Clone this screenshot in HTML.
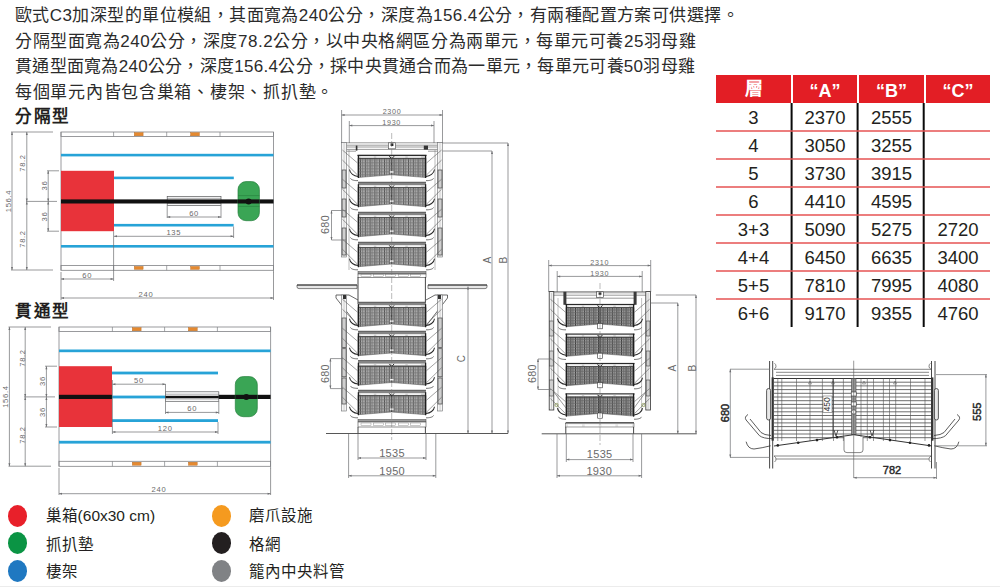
<!DOCTYPE html>
<html lang="zh-TW"><head><meta charset="utf-8">
<style>
html,body{margin:0;padding:0;background:#fff;}
body{width:1000px;height:587px;position:relative;overflow:hidden;font-family:"Liberation Sans",sans-serif;color:#231f20;}
.t{position:absolute;white-space:nowrap;font-size:17px;line-height:20px;color:#2b2b2b}
.h{position:absolute;white-space:nowrap;font-size:16.5px;line-height:20px;font-weight:bold;letter-spacing:1.6px;color:#231f20}
.th{position:absolute;top:75px;height:28px;line-height:32px;text-align:center;color:#fff;font-weight:bold;font-size:18px}
.td{position:absolute;height:28px;line-height:30px;text-align:center;color:#231f20;font-size:18.5px}
.dot{position:absolute;width:19.4px;height:22px;border-radius:50%}
.lg{position:absolute;white-space:nowrap;font-size:15.5px;line-height:20px;color:#231f20}
</style></head><body>
<svg width="1000" height="587" viewBox="0 0 1000 587" style="position:absolute;left:0;top:0;font-family:'Liberation Sans',sans-serif">
<defs><pattern id="mesh" x="0" y="0" width="4.8" height="1.5" patternUnits="userSpaceOnUse"><rect width="4.8" height="1.5" fill="#b4b4b4"/><rect x="0" y="0" width="0.75" height="1.5" fill="#353535"/><rect x="2.4" y="0" width="0.6" height="1.5" fill="#505050"/><rect x="0" y="0" width="4.8" height="0.5" fill="#767676"/></pattern><pattern id="mesh2" x="0" y="0" width="4.6" height="1.6" patternUnits="userSpaceOnUse"><rect width="4.6" height="1.6" fill="#a4a4a4"/><rect x="0" y="0" width="0.85" height="1.6" fill="#2e2e2e"/><rect x="2.3" y="0" width="0.7" height="1.6" fill="#454545"/><rect x="0" y="0" width="4.6" height="0.6" fill="#666"/></pattern></defs>
<line x1="61" y1="132" x2="61" y2="270.3" stroke="#808285" stroke-width="0.8" />
<line x1="273.5" y1="132" x2="273.5" y2="272.3" stroke="#808285" stroke-width="0.8" />
<rect x="61" y="132" width="212.5" height="4.5" fill="none" stroke="#808285" stroke-width="0.8" rx="0" />
<rect x="61" y="265.5" width="212.5" height="4.800000000000011" fill="none" stroke="#808285" stroke-width="0.8" rx="0" />
<line x1="113.6" y1="132" x2="113.6" y2="136.5" stroke="#808285" stroke-width="0.7" />
<line x1="113.6" y1="265.5" x2="113.6" y2="270.3" stroke="#808285" stroke-width="0.7" />
<line x1="166.7" y1="132" x2="166.7" y2="136.5" stroke="#808285" stroke-width="0.7" />
<line x1="166.7" y1="265.5" x2="166.7" y2="270.3" stroke="#808285" stroke-width="0.7" />
<line x1="220" y1="132" x2="220" y2="136.5" stroke="#808285" stroke-width="0.7" />
<line x1="220" y1="265.5" x2="220" y2="270.3" stroke="#808285" stroke-width="0.7" />
<rect x="134.3" y="132.6" width="8.8" height="3.2" fill="#e5892f" stroke="#b5651d" stroke-width="0.4" rx="0" />
<rect x="134.3" y="266.4" width="8.8" height="3.0" fill="#e5892f" stroke="#b5651d" stroke-width="0.4" rx="0" />
<rect x="190.6" y="132.6" width="8.8" height="3.2" fill="#e5892f" stroke="#b5651d" stroke-width="0.4" rx="0" />
<rect x="190.6" y="266.4" width="8.8" height="3.0" fill="#e5892f" stroke="#b5651d" stroke-width="0.4" rx="0" />
<rect x="61" y="153.8" width="212.5" height="2.6" fill="#27a3d7" stroke="none" stroke-width="0.7" rx="0" />
<rect x="114" y="176.6" width="119.8" height="2.6" fill="#27a3d7" stroke="none" stroke-width="0.7" rx="0" />
<rect x="114" y="223.9" width="119.6" height="2.6" fill="#27a3d7" stroke="none" stroke-width="0.7" rx="0" />
<rect x="61" y="245" width="212.5" height="2.6" fill="#27a3d7" stroke="none" stroke-width="0.7" rx="0" />
<rect x="61" y="170.8" width="53" height="60.4" fill="#e8333a" stroke="none" stroke-width="0.7" rx="0" />
<rect x="167.2" y="196.5" width="53.8" height="9" fill="#fff" stroke="#58595b" stroke-width="0.7" rx="0" />
<line x1="167.2" y1="198.3" x2="221" y2="198.3" stroke="#58595b" stroke-width="0.5" />
<line x1="167.2" y1="203.6" x2="221" y2="203.6" stroke="#58595b" stroke-width="0.5" />
<rect x="61" y="199.4" width="212.5" height="4.1" fill="#111" stroke="none" stroke-width="0.7" rx="0" />
<rect x="238" y="181.6" width="21.4" height="39.1" fill="#3aa555" stroke="#26803d" stroke-width="0.7" rx="8" />
<line x1="238" y1="195.6" x2="259.4" y2="195.6" stroke="#26803d" stroke-width="0.6" />
<line x1="238" y1="206.4" x2="259.4" y2="206.4" stroke="#26803d" stroke-width="0.6" />
<rect x="238" y="199.4" width="21.4" height="4.1" fill="#111" stroke="none" stroke-width="0.7" rx="0" />
<circle cx="248.6" cy="201.4" r="3" fill="#111"/>
<line x1="167.2" y1="205.5" x2="167.2" y2="218" stroke="#6d6e71" stroke-width="0.7" />
<line x1="221" y1="205.5" x2="221" y2="218" stroke="#6d6e71" stroke-width="0.7" />
<line x1="167.2" y1="217" x2="221" y2="217" stroke="#6d6e71" stroke-width="0.7" />
<path d="M167.2,217 l3,-1 v2 z M221,217 l-3,-1 v2 z" fill="#6d6e71"/>
<text x="194.1" y="213" font-size="7.6" fill="#6a6a6a" text-anchor="middle" dominant-baseline="central" font-weight="normal" letter-spacing="0.7">60</text>
<line x1="233.6" y1="226.5" x2="233.6" y2="238" stroke="#6d6e71" stroke-width="0.7" />
<line x1="114" y1="236.3" x2="233.6" y2="236.3" stroke="#6d6e71" stroke-width="0.7" />
<path d="M114,236.3 l3,-1 v2 z M233.6,236.3 l-3,-1 v2 z" fill="#6d6e71"/>
<text x="173.8" y="232" font-size="7.6" fill="#6a6a6a" text-anchor="middle" dominant-baseline="central" font-weight="normal" letter-spacing="0.7">135</text>
<line x1="113.6" y1="231.2" x2="113.6" y2="281" stroke="#6d6e71" stroke-width="0.7" />
<line x1="61" y1="279" x2="113.6" y2="279" stroke="#6d6e71" stroke-width="0.7" />
<path d="M61,279 l3,-1 v2 z M113.6,279 l-3,-1 v2 z" fill="#6d6e71"/>
<text x="87.3" y="275.5" font-size="7.6" fill="#6a6a6a" text-anchor="middle" dominant-baseline="central" font-weight="normal" letter-spacing="0.7">60</text>
<line x1="61" y1="272" x2="61" y2="300" stroke="#6d6e71" stroke-width="0.7" />
<line x1="273.5" y1="272" x2="273.5" y2="300" stroke="#6d6e71" stroke-width="0.7" />
<line x1="61" y1="298" x2="273.5" y2="298" stroke="#6d6e71" stroke-width="0.7" />
<path d="M61,298 l3,-1 v2 z M273.5,298 l-3,-1 v2 z" fill="#6d6e71"/>
<text x="146" y="294" font-size="7.6" fill="#6a6a6a" text-anchor="middle" dominant-baseline="central" font-weight="normal" letter-spacing="0.7">240</text>
<line x1="11" y1="132" x2="53" y2="132" stroke="#6d6e71" stroke-width="0.7" />
<line x1="11" y1="270" x2="53" y2="270" stroke="#6d6e71" stroke-width="0.7" />
<line x1="12" y1="132" x2="12" y2="270" stroke="#6d6e71" stroke-width="0.7" />
<path d="M12,132 l-1,3 h2 z M12,270 l-1,-3 h2 z" fill="#6d6e71"/>
<text x="8.5" y="201.0" font-size="7.6" fill="#6a6a6a" text-anchor="middle" dominant-baseline="central" font-weight="normal" letter-spacing="0.7" transform="rotate(-90 8.5 201.0)">156.4</text>
<line x1="26.8" y1="132" x2="26.8" y2="201.4" stroke="#6d6e71" stroke-width="0.7" />
<path d="M26.8,132 l-1,3 h2 z M26.8,201.4 l-1,-3 h2 z" fill="#6d6e71"/>
<text x="22.5" y="163" font-size="7.6" fill="#6a6a6a" text-anchor="middle" dominant-baseline="central" font-weight="normal" letter-spacing="0.7" transform="rotate(-90 22.5 163)">78.2</text>
<line x1="26.8" y1="201.4" x2="26.8" y2="270" stroke="#6d6e71" stroke-width="0.7" />
<path d="M26.8,201.4 l-1,3 h2 z M26.8,270 l-1,-3 h2 z" fill="#6d6e71"/>
<text x="22.5" y="239" font-size="7.6" fill="#6a6a6a" text-anchor="middle" dominant-baseline="central" font-weight="normal" letter-spacing="0.7" transform="rotate(-90 22.5 239)">78.2</text>
<line x1="26" y1="201.4" x2="57" y2="201.4" stroke="#6d6e71" stroke-width="0.7" />
<line x1="47" y1="170.8" x2="59" y2="170.8" stroke="#6d6e71" stroke-width="0.7" />
<line x1="47" y1="231.2" x2="59" y2="231.2" stroke="#6d6e71" stroke-width="0.7" />
<line x1="48.2" y1="170.8" x2="48.2" y2="201.4" stroke="#6d6e71" stroke-width="0.7" />
<path d="M48.2,170.8 l-1,3 h2 z M48.2,201.4 l-1,-3 h2 z" fill="#6d6e71"/>
<text x="44.5" y="185.5" font-size="7.6" fill="#6a6a6a" text-anchor="middle" dominant-baseline="central" font-weight="normal" letter-spacing="0.7" transform="rotate(-90 44.5 185.5)">36</text>
<line x1="48.2" y1="201.4" x2="48.2" y2="231.2" stroke="#6d6e71" stroke-width="0.7" />
<path d="M48.2,201.4 l-1,3 h2 z M48.2,231.2 l-1,-3 h2 z" fill="#6d6e71"/>
<text x="44.5" y="216.5" font-size="7.6" fill="#6a6a6a" text-anchor="middle" dominant-baseline="central" font-weight="normal" letter-spacing="0.7" transform="rotate(-90 44.5 216.5)">36</text>
<line x1="59" y1="327" x2="59" y2="466.3" stroke="#808285" stroke-width="0.8" />
<line x1="270.6" y1="327" x2="270.6" y2="468.3" stroke="#808285" stroke-width="0.8" />
<rect x="59" y="327" width="211.60000000000002" height="4.5" fill="none" stroke="#808285" stroke-width="0.8" rx="0" />
<rect x="59" y="461.3" width="211.60000000000002" height="5.0" fill="none" stroke="#808285" stroke-width="0.8" rx="0" />
<line x1="112.4" y1="327" x2="112.4" y2="331.5" stroke="#808285" stroke-width="0.7" />
<line x1="112.4" y1="461.3" x2="112.4" y2="466.3" stroke="#808285" stroke-width="0.7" />
<line x1="164.6" y1="327" x2="164.6" y2="331.5" stroke="#808285" stroke-width="0.7" />
<line x1="164.6" y1="461.3" x2="164.6" y2="466.3" stroke="#808285" stroke-width="0.7" />
<line x1="217.4" y1="327" x2="217.4" y2="331.5" stroke="#808285" stroke-width="0.7" />
<line x1="217.4" y1="461.3" x2="217.4" y2="466.3" stroke="#808285" stroke-width="0.7" />
<rect x="132.3" y="327.6" width="8.8" height="3.2" fill="#e5892f" stroke="#b5651d" stroke-width="0.4" rx="0" />
<rect x="132.3" y="462.2" width="8.8" height="3.0" fill="#e5892f" stroke="#b5651d" stroke-width="0.4" rx="0" />
<rect x="188.4" y="327.6" width="8.8" height="3.2" fill="#e5892f" stroke="#b5651d" stroke-width="0.4" rx="0" />
<rect x="188.4" y="462.2" width="8.8" height="3.0" fill="#e5892f" stroke="#b5651d" stroke-width="0.4" rx="0" />
<rect x="59" y="349.5" width="211.60000000000002" height="2.7" fill="#27a3d7" stroke="none" stroke-width="0.7" rx="0" />
<rect x="112" y="371.6" width="106" height="2.8" fill="#27a3d7" stroke="none" stroke-width="0.7" rx="0" />
<rect x="112" y="395.6" width="53.5" height="2.8" fill="#27a3d7" stroke="none" stroke-width="0.7" rx="0" />
<rect x="112" y="419.2" width="106" height="2.8" fill="#27a3d7" stroke="none" stroke-width="0.7" rx="0" />
<rect x="59" y="440.8" width="211.60000000000002" height="2.8" fill="#27a3d7" stroke="none" stroke-width="0.7" rx="0" />
<rect x="59" y="366.2" width="53" height="60.8" fill="#e8333a" stroke="none" stroke-width="0.7" rx="0" />
<rect x="59" y="394.8" width="53" height="4.2" fill="#111" stroke="none" stroke-width="0.7" rx="0" />
<rect x="165.5" y="391.8" width="53.3" height="9.5" fill="#fff" stroke="#58595b" stroke-width="0.7" rx="0" />
<line x1="165.5" y1="394.2" x2="218.8" y2="394.2" stroke="#58595b" stroke-width="0.5" />
<line x1="165.5" y1="399" x2="218.8" y2="399" stroke="#58595b" stroke-width="0.5" />
<rect x="165.5" y="395.8" width="53.3" height="2.4" fill="#111" stroke="none" stroke-width="0.7" rx="0" />
<rect x="218.8" y="394.8" width="51.80000000000001" height="4.2" fill="#111" stroke="none" stroke-width="0.7" rx="0" />
<rect x="235.3" y="376.6" width="22" height="40.1" fill="#3aa555" stroke="#26803d" stroke-width="0.7" rx="8" />
<rect x="235.3" y="394.8" width="22" height="4.2" fill="#111" stroke="none" stroke-width="0.7" rx="0" />
<circle cx="246.3" cy="396.9" r="3" fill="#111"/>
<line x1="165.5" y1="384" x2="165.5" y2="392" stroke="#6d6e71" stroke-width="0.7" />
<line x1="112.4" y1="380" x2="112.4" y2="434" stroke="#6d6e71" stroke-width="0.7" />
<line x1="112.4" y1="384.2" x2="165.5" y2="384.2" stroke="#6d6e71" stroke-width="0.7" />
<path d="M112.4,384.2 l3,-1 v2 z M165.5,384.2 l-3,-1 v2 z" fill="#6d6e71"/>
<text x="138.95" y="380" font-size="7.6" fill="#6a6a6a" text-anchor="middle" dominant-baseline="central" font-weight="normal" letter-spacing="0.7">50</text>
<line x1="165.5" y1="401.3" x2="165.5" y2="414" stroke="#6d6e71" stroke-width="0.7" />
<line x1="218.8" y1="401.3" x2="218.8" y2="414" stroke="#6d6e71" stroke-width="0.7" />
<line x1="165.5" y1="412.4" x2="218.8" y2="412.4" stroke="#6d6e71" stroke-width="0.7" />
<path d="M165.5,412.4 l3,-1 v2 z M218.8,412.4 l-3,-1 v2 z" fill="#6d6e71"/>
<text x="192.15" y="408.5" font-size="7.6" fill="#6a6a6a" text-anchor="middle" dominant-baseline="central" font-weight="normal" letter-spacing="0.7">60</text>
<line x1="218" y1="422" x2="218" y2="434" stroke="#6d6e71" stroke-width="0.7" />
<line x1="112.4" y1="432" x2="218" y2="432" stroke="#6d6e71" stroke-width="0.7" />
<path d="M112.4,432 l3,-1 v2 z M218,432 l-3,-1 v2 z" fill="#6d6e71"/>
<text x="165.2" y="428" font-size="7.6" fill="#6a6a6a" text-anchor="middle" dominant-baseline="central" font-weight="normal" letter-spacing="0.7">120</text>
<line x1="59" y1="468" x2="59" y2="495" stroke="#6d6e71" stroke-width="0.7" />
<line x1="270.6" y1="468" x2="270.6" y2="495" stroke="#6d6e71" stroke-width="0.7" />
<line x1="59" y1="493.7" x2="270.6" y2="493.7" stroke="#6d6e71" stroke-width="0.7" />
<path d="M59,493.7 l3,-1 v2 z M270.6,493.7 l-3,-1 v2 z" fill="#6d6e71"/>
<text x="159" y="489.5" font-size="7.6" fill="#6a6a6a" text-anchor="middle" dominant-baseline="central" font-weight="normal" letter-spacing="0.7">240</text>
<line x1="8.5" y1="327" x2="51" y2="327" stroke="#6d6e71" stroke-width="0.7" />
<line x1="8.5" y1="466.2" x2="51" y2="466.2" stroke="#6d6e71" stroke-width="0.7" />
<line x1="9.4" y1="327" x2="9.4" y2="466.2" stroke="#6d6e71" stroke-width="0.7" />
<path d="M9.4,327 l-1,3 h2 z M9.4,466.2 l-1,-3 h2 z" fill="#6d6e71"/>
<text x="6" y="396.6" font-size="7.6" fill="#6a6a6a" text-anchor="middle" dominant-baseline="central" font-weight="normal" letter-spacing="0.7" transform="rotate(-90 6 396.6)">156.4</text>
<line x1="25.2" y1="327" x2="25.2" y2="396.9" stroke="#6d6e71" stroke-width="0.7" />
<path d="M25.2,327 l-1,3 h2 z M25.2,396.9 l-1,-3 h2 z" fill="#6d6e71"/>
<text x="22" y="358" font-size="7.6" fill="#6a6a6a" text-anchor="middle" dominant-baseline="central" font-weight="normal" letter-spacing="0.7" transform="rotate(-90 22 358)">78.2</text>
<line x1="25.2" y1="396.9" x2="25.2" y2="466.2" stroke="#6d6e71" stroke-width="0.7" />
<path d="M25.2,396.9 l-1,3 h2 z M25.2,466.2 l-1,-3 h2 z" fill="#6d6e71"/>
<text x="22" y="435" font-size="7.6" fill="#6a6a6a" text-anchor="middle" dominant-baseline="central" font-weight="normal" letter-spacing="0.7" transform="rotate(-90 22 435)">78.2</text>
<line x1="24" y1="396.9" x2="55" y2="396.9" stroke="#6d6e71" stroke-width="0.7" />
<line x1="45" y1="366.2" x2="57" y2="366.2" stroke="#6d6e71" stroke-width="0.7" />
<line x1="45" y1="427" x2="57" y2="427" stroke="#6d6e71" stroke-width="0.7" />
<line x1="46.4" y1="366.2" x2="46.4" y2="396.9" stroke="#6d6e71" stroke-width="0.7" />
<path d="M46.4,366.2 l-1,3 h2 z M46.4,396.9 l-1,-3 h2 z" fill="#6d6e71"/>
<text x="42.5" y="381" font-size="7.6" fill="#6a6a6a" text-anchor="middle" dominant-baseline="central" font-weight="normal" letter-spacing="0.7" transform="rotate(-90 42.5 381)">36</text>
<line x1="46.4" y1="396.9" x2="46.4" y2="427" stroke="#6d6e71" stroke-width="0.7" />
<path d="M46.4,396.9 l-1,3 h2 z M46.4,427 l-1,-3 h2 z" fill="#6d6e71"/>
<text x="42.5" y="412" font-size="7.6" fill="#6a6a6a" text-anchor="middle" dominant-baseline="central" font-weight="normal" letter-spacing="0.7" transform="rotate(-90 42.5 412)">36</text>
<line x1="341.6" y1="110" x2="341.6" y2="143" stroke="#6d6e71" stroke-width="0.7" />
<line x1="442.5" y1="110" x2="442.5" y2="143" stroke="#6d6e71" stroke-width="0.7" />
<line x1="341.6" y1="115" x2="442.5" y2="115" stroke="#6d6e71" stroke-width="0.7" />
<path d="M341.6,115 l3,-1 v2 z M442.5,115 l-3,-1 v2 z" fill="#6d6e71"/>
<text x="392.05" y="111.5" font-size="7.2" fill="#6a6a6a" text-anchor="middle" dominant-baseline="central" font-weight="normal" letter-spacing="0.7">2300</text>
<line x1="349.3" y1="121" x2="349.3" y2="143" stroke="#6d6e71" stroke-width="0.7" />
<line x1="434" y1="121" x2="434" y2="143" stroke="#6d6e71" stroke-width="0.7" />
<line x1="349.3" y1="125.6" x2="434" y2="125.6" stroke="#6d6e71" stroke-width="0.7" />
<path d="M349.3,125.6 l3,-1 v2 z M434,125.6 l-3,-1 v2 z" fill="#6d6e71"/>
<text x="391.65" y="122.3" font-size="7.2" fill="#6a6a6a" text-anchor="middle" dominant-baseline="central" font-weight="normal" letter-spacing="0.7">1930</text>
<path d="M341.6,142.8 H443 M346.4,145.2 H438 M346.4,147 H438 M346.4,149.4 H438 M346.4,151.2 H356 M428,151.2 H438" stroke="#555" stroke-width="0.6" fill="none"/>
<rect x="388.4" y="142.8" width="7.2" height="6" fill="#fff" stroke="#444" stroke-width="0.6" rx="0" />
<rect x="390.6" y="143.4" width="2.8" height="2.6" fill="#222" stroke="none" stroke-width="0.7" rx="0" />
<rect x="423.8" y="145.6" width="4.2" height="4" fill="#333" stroke="none" stroke-width="0.7" rx="0" />
<rect x="355.8" y="145.6" width="1.6" height="5" fill="#333" stroke="none" stroke-width="0.7" rx="0" />
<rect x="341.6" y="142.6" width="4.899999999999977" height="114.4" fill="#f4f4f4" stroke="#6d6e71" stroke-width="0.6" rx="0" />
<line x1="344.05" y1="142.6" x2="344.05" y2="257" stroke="#9a9a9a" stroke-width="0.4" />
<rect x="342.1" y="170" width="3.8999999999999773" height="18" fill="#cfcfcf" stroke="#444" stroke-width="0.7" rx="0" />
<rect x="342.1" y="199" width="3.8999999999999773" height="18" fill="#cfcfcf" stroke="#444" stroke-width="0.7" rx="0" />
<rect x="342.1" y="228" width="3.8999999999999773" height="27" fill="#cfcfcf" stroke="#444" stroke-width="0.7" rx="0" />
<rect x="437.5" y="142.6" width="5.0" height="114.4" fill="#f4f4f4" stroke="#6d6e71" stroke-width="0.6" rx="0" />
<line x1="440.0" y1="142.6" x2="440.0" y2="257" stroke="#9a9a9a" stroke-width="0.4" />
<rect x="438.0" y="170" width="4.0" height="18" fill="#cfcfcf" stroke="#444" stroke-width="0.7" rx="0" />
<rect x="438.0" y="199" width="4.0" height="18" fill="#cfcfcf" stroke="#444" stroke-width="0.7" rx="0" />
<rect x="438.0" y="228" width="4.0" height="27" fill="#cfcfcf" stroke="#444" stroke-width="0.7" rx="0" />
<line x1="349" y1="150" x2="349" y2="270" stroke="#777" stroke-width="0.5" />
<line x1="435" y1="150" x2="435" y2="270" stroke="#777" stroke-width="0.5" />
<path d="M349.5,169.5 C350,173.5 354,176 358,176.4" fill="none" stroke="#2a2a2a" stroke-width="1.05"/>
<path d="M350.5,178.3 C351,180 355,180.8 358,180.6" fill="none" stroke="#333" stroke-width="0.7"/>
<path d="M342.4,160 L357.5,175 M342.4,150 L357.5,163" stroke="#555" stroke-width="0.55" fill="none"/>
<path d="M434.5,169.5 C434,173.5 430,176 426,176.4" fill="none" stroke="#2a2a2a" stroke-width="1.05"/>
<path d="M433.5,178.3 C433,180 429,180.8 426,180.6" fill="none" stroke="#333" stroke-width="0.7"/>
<path d="M441.6,160 L426.5,175 M441.6,150 L426.5,163" stroke="#555" stroke-width="0.55" fill="none"/>
<rect x="357.5" y="154.7" width="69" height="1.3" fill="#2a2a2a" stroke="none" stroke-width="0.7" rx="0" />
<rect x="358" y="156" width="68" height="2.2" fill="#d4d4d4" stroke="none" stroke-width="0.7" rx="0" />
<rect x="360.5" y="156.5" width="13.35" height="1.2" fill="#fff" stroke="none" stroke-width="0.7" rx="0" />
<rect x="376.25" y="156.5" width="13.35" height="1.2" fill="#fff" stroke="none" stroke-width="0.7" rx="0" />
<rect x="392.0" y="156.5" width="13.35" height="1.2" fill="#fff" stroke="none" stroke-width="0.7" rx="0" />
<rect x="407.75" y="156.5" width="13.35" height="1.2" fill="#fff" stroke="none" stroke-width="0.7" rx="0" />
<path d="M358,158.2 H426 V177.5 L391.7,174.8 L358,177.5 Z" fill="url(#mesh)" stroke="#555" stroke-width="0.5"/>
<rect x="358" y="158.1" width="68" height="0.8" fill="#3a3a3a" stroke="none" stroke-width="0.7" rx="0" />
<line x1="358.4" y1="155" x2="358.4" y2="178.0" stroke="#1e1e1e" stroke-width="1.3" />
<line x1="425.6" y1="155" x2="425.6" y2="178.0" stroke="#1e1e1e" stroke-width="1.3" />
<line x1="391.7" y1="158.2" x2="391.7" y2="174.8" stroke="#333" stroke-width="0.9" />
<path d="M389.3,156.2 l1.8,2 M394.09999999999997,156.2 l-1.8,2" stroke="#111" stroke-width="0.9"/>
<rect x="389.9" y="171.20000000000002" width="3.6" height="1.5" fill="#f4f4f4" stroke="none" stroke-width="0.7" rx="0" />
<path d="M349.5,198.7 C350,202.7 354,205.2 358,205.6" fill="none" stroke="#2a2a2a" stroke-width="1.05"/>
<path d="M350.5,207.5 C351,209.2 355,210.0 358,209.79999999999998" fill="none" stroke="#333" stroke-width="0.7"/>
<path d="M342.4,189.2 L357.5,204.2 M342.4,179.2 L357.5,192.2" stroke="#555" stroke-width="0.55" fill="none"/>
<path d="M434.5,198.7 C434,202.7 430,205.2 426,205.6" fill="none" stroke="#2a2a2a" stroke-width="1.05"/>
<path d="M433.5,207.5 C433,209.2 429,210.0 426,209.79999999999998" fill="none" stroke="#333" stroke-width="0.7"/>
<path d="M441.6,189.2 L426.5,204.2 M441.6,179.2 L426.5,192.2" stroke="#555" stroke-width="0.55" fill="none"/>
<rect x="358" y="182.0" width="68" height="3.2" fill="#858585" stroke="none" stroke-width="0.7" rx="0" />
<rect x="358" y="181.79999999999998" width="68" height="0.7" fill="#444" stroke="none" stroke-width="0.7" rx="0" />
<rect x="358" y="185.2" width="68" height="2.2" fill="#d4d4d4" stroke="none" stroke-width="0.7" rx="0" />
<rect x="360.5" y="185.7" width="13.35" height="1.2" fill="#fff" stroke="none" stroke-width="0.7" rx="0" />
<rect x="376.25" y="185.7" width="13.35" height="1.2" fill="#fff" stroke="none" stroke-width="0.7" rx="0" />
<rect x="392.0" y="185.7" width="13.35" height="1.2" fill="#fff" stroke="none" stroke-width="0.7" rx="0" />
<rect x="407.75" y="185.7" width="13.35" height="1.2" fill="#fff" stroke="none" stroke-width="0.7" rx="0" />
<path d="M358,187.39999999999998 H426 V206.7 L391.7,204.0 L358,206.7 Z" fill="url(#mesh)" stroke="#555" stroke-width="0.5"/>
<rect x="358" y="187.29999999999998" width="68" height="0.8" fill="#3a3a3a" stroke="none" stroke-width="0.7" rx="0" />
<line x1="358.4" y1="184.2" x2="358.4" y2="207.2" stroke="#1e1e1e" stroke-width="1.3" />
<line x1="425.6" y1="184.2" x2="425.6" y2="207.2" stroke="#1e1e1e" stroke-width="1.3" />
<line x1="391.7" y1="187.39999999999998" x2="391.7" y2="204.0" stroke="#333" stroke-width="0.9" />
<path d="M389.3,185.39999999999998 l1.8,2 M394.09999999999997,185.39999999999998 l-1.8,2" stroke="#111" stroke-width="0.9"/>
<rect x="389.9" y="200.4" width="3.6" height="1.5" fill="#f4f4f4" stroke="none" stroke-width="0.7" rx="0" />
<path d="M349.5,228.7 C350,232.7 354,235.2 358,235.6" fill="none" stroke="#2a2a2a" stroke-width="1.05"/>
<path d="M350.5,237.5 C351,239.2 355,240.0 358,239.79999999999998" fill="none" stroke="#333" stroke-width="0.7"/>
<path d="M342.4,219.2 L357.5,234.2 M342.4,209.2 L357.5,222.2" stroke="#555" stroke-width="0.55" fill="none"/>
<path d="M434.5,228.7 C434,232.7 430,235.2 426,235.6" fill="none" stroke="#2a2a2a" stroke-width="1.05"/>
<path d="M433.5,237.5 C433,239.2 429,240.0 426,239.79999999999998" fill="none" stroke="#333" stroke-width="0.7"/>
<path d="M441.6,219.2 L426.5,234.2 M441.6,209.2 L426.5,222.2" stroke="#555" stroke-width="0.55" fill="none"/>
<rect x="358" y="212.0" width="68" height="3.2" fill="#858585" stroke="none" stroke-width="0.7" rx="0" />
<rect x="358" y="211.79999999999998" width="68" height="0.7" fill="#444" stroke="none" stroke-width="0.7" rx="0" />
<rect x="358" y="215.2" width="68" height="2.2" fill="#d4d4d4" stroke="none" stroke-width="0.7" rx="0" />
<rect x="360.5" y="215.7" width="13.35" height="1.2" fill="#fff" stroke="none" stroke-width="0.7" rx="0" />
<rect x="376.25" y="215.7" width="13.35" height="1.2" fill="#fff" stroke="none" stroke-width="0.7" rx="0" />
<rect x="392.0" y="215.7" width="13.35" height="1.2" fill="#fff" stroke="none" stroke-width="0.7" rx="0" />
<rect x="407.75" y="215.7" width="13.35" height="1.2" fill="#fff" stroke="none" stroke-width="0.7" rx="0" />
<path d="M358,217.39999999999998 H426 V236.7 L391.7,234.0 L358,236.7 Z" fill="url(#mesh)" stroke="#555" stroke-width="0.5"/>
<rect x="358" y="217.29999999999998" width="68" height="0.8" fill="#3a3a3a" stroke="none" stroke-width="0.7" rx="0" />
<line x1="358.4" y1="214.2" x2="358.4" y2="237.2" stroke="#1e1e1e" stroke-width="1.3" />
<line x1="425.6" y1="214.2" x2="425.6" y2="237.2" stroke="#1e1e1e" stroke-width="1.3" />
<line x1="391.7" y1="217.39999999999998" x2="391.7" y2="234.0" stroke="#333" stroke-width="0.9" />
<path d="M389.3,215.39999999999998 l1.8,2 M394.09999999999997,215.39999999999998 l-1.8,2" stroke="#111" stroke-width="0.9"/>
<rect x="389.9" y="230.4" width="3.6" height="1.5" fill="#f4f4f4" stroke="none" stroke-width="0.7" rx="0" />
<path d="M349.5,258.7 C350,262.7 354,265.2 358,265.59999999999997" fill="none" stroke="#2a2a2a" stroke-width="1.05"/>
<path d="M350.5,267.5 C351,269.2 355,270.0 358,269.8" fill="none" stroke="#333" stroke-width="0.7"/>
<path d="M342.4,249.2 L357.5,264.2 M342.4,239.2 L357.5,252.2" stroke="#555" stroke-width="0.55" fill="none"/>
<path d="M434.5,258.7 C434,262.7 430,265.2 426,265.59999999999997" fill="none" stroke="#2a2a2a" stroke-width="1.05"/>
<path d="M433.5,267.5 C433,269.2 429,270.0 426,269.8" fill="none" stroke="#333" stroke-width="0.7"/>
<path d="M441.6,249.2 L426.5,264.2 M441.6,239.2 L426.5,252.2" stroke="#555" stroke-width="0.55" fill="none"/>
<rect x="358" y="242.0" width="68" height="3.2" fill="#858585" stroke="none" stroke-width="0.7" rx="0" />
<rect x="358" y="241.79999999999998" width="68" height="0.7" fill="#444" stroke="none" stroke-width="0.7" rx="0" />
<rect x="358" y="245.2" width="68" height="2.2" fill="#d4d4d4" stroke="none" stroke-width="0.7" rx="0" />
<rect x="360.5" y="245.7" width="13.35" height="1.2" fill="#fff" stroke="none" stroke-width="0.7" rx="0" />
<rect x="376.25" y="245.7" width="13.35" height="1.2" fill="#fff" stroke="none" stroke-width="0.7" rx="0" />
<rect x="392.0" y="245.7" width="13.35" height="1.2" fill="#fff" stroke="none" stroke-width="0.7" rx="0" />
<rect x="407.75" y="245.7" width="13.35" height="1.2" fill="#fff" stroke="none" stroke-width="0.7" rx="0" />
<path d="M358,247.39999999999998 H426 V266.7 L391.7,264.0 L358,266.7 Z" fill="url(#mesh)" stroke="#555" stroke-width="0.5"/>
<rect x="358" y="247.29999999999998" width="68" height="0.8" fill="#3a3a3a" stroke="none" stroke-width="0.7" rx="0" />
<line x1="358.4" y1="244.2" x2="358.4" y2="267.2" stroke="#1e1e1e" stroke-width="1.3" />
<line x1="425.6" y1="244.2" x2="425.6" y2="267.2" stroke="#1e1e1e" stroke-width="1.3" />
<line x1="391.7" y1="247.39999999999998" x2="391.7" y2="264.0" stroke="#333" stroke-width="0.9" />
<path d="M389.3,245.39999999999998 l1.8,2 M394.09999999999997,245.39999999999998 l-1.8,2" stroke="#111" stroke-width="0.9"/>
<rect x="389.9" y="260.4" width="3.6" height="1.5" fill="#f4f4f4" stroke="none" stroke-width="0.7" rx="0" />
<rect x="358" y="271.6" width="68" height="2.4" fill="#9a9a9a" stroke="#444" stroke-width="0.5" rx="0" />
<rect x="358" y="274" width="68" height="3.6" fill="#fff" stroke="#444" stroke-width="0.6" rx="0" />
<rect x="361.0" y="274.8" width="10" height="1.8" fill="#fff" stroke="#777" stroke-width="0.4" rx="0" />
<rect x="373.4" y="274.8" width="10" height="1.8" fill="#fff" stroke="#777" stroke-width="0.4" rx="0" />
<rect x="385.8" y="274.8" width="10" height="1.8" fill="#fff" stroke="#777" stroke-width="0.4" rx="0" />
<rect x="398.2" y="274.8" width="10" height="1.8" fill="#fff" stroke="#777" stroke-width="0.4" rx="0" />
<rect x="410.6" y="274.8" width="10" height="1.8" fill="#fff" stroke="#777" stroke-width="0.4" rx="0" />
<line x1="358" y1="277" x2="358" y2="304" stroke="#333" stroke-width="0.9" />
<line x1="425.4" y1="277" x2="425.4" y2="304" stroke="#333" stroke-width="0.9" />
<path d="M297,285 H357 V288.6 H299 q-2,0 -2,-1.8 z" fill="#e6e6e6" stroke="#333" stroke-width="0.6"/>
<rect x="297" y="284.5" width="60" height="1" fill="#333" stroke="none" stroke-width="0.7" rx="0" />
<path d="M428,285 H487 V286.8 q0,1.8 -2,1.8 H428 z" fill="#e6e6e6" stroke="#333" stroke-width="0.6"/>
<rect x="428" y="284.5" width="59" height="1" fill="#333" stroke="none" stroke-width="0.7" rx="0" />
<path d="M336,295 H349 L358,300 M336,295 L336,298 L358,326 M447.5,295 H435 L426,300 M447.5,295 L447.5,298 L426,326" fill="none" stroke="#444" stroke-width="0.8"/>
<rect x="341.5" y="295" width="5.100000000000023" height="116" fill="#f4f4f4" stroke="#6d6e71" stroke-width="0.6" rx="0" />
<line x1="344.05" y1="295" x2="344.05" y2="411" stroke="#9a9a9a" stroke-width="0.4" />
<rect x="342.0" y="318" width="4.100000000000023" height="29.5" fill="#cfcfcf" stroke="#444" stroke-width="0.7" rx="0" />
<rect x="342.0" y="348.7" width="4.100000000000023" height="28.100000000000023" fill="#cfcfcf" stroke="#444" stroke-width="0.7" rx="0" />
<rect x="342.0" y="378" width="4.100000000000023" height="26" fill="#cfcfcf" stroke="#444" stroke-width="0.7" rx="0" />
<rect x="437.5" y="295" width="5.100000000000023" height="116" fill="#f4f4f4" stroke="#6d6e71" stroke-width="0.6" rx="0" />
<line x1="440.05" y1="295" x2="440.05" y2="411" stroke="#9a9a9a" stroke-width="0.4" />
<rect x="438.0" y="318" width="4.100000000000023" height="29.5" fill="#cfcfcf" stroke="#444" stroke-width="0.7" rx="0" />
<rect x="438.0" y="348.7" width="4.100000000000023" height="28.100000000000023" fill="#cfcfcf" stroke="#444" stroke-width="0.7" rx="0" />
<rect x="438.0" y="378" width="4.100000000000023" height="26" fill="#cfcfcf" stroke="#444" stroke-width="0.7" rx="0" />
<rect x="343" y="295" width="3" height="4" fill="#333" stroke="none" stroke-width="0.7" rx="0" />
<rect x="438" y="295" width="3" height="4" fill="#333" stroke="none" stroke-width="0.7" rx="0" />
<path d="M349.5,318.7 C350,322.7 354,325.2 358,325.59999999999997" fill="none" stroke="#2a2a2a" stroke-width="1.05"/>
<path d="M350.5,327.5 C351,329.2 355,330.0 358,329.8" fill="none" stroke="#333" stroke-width="0.7"/>
<path d="M342.4,309.2 L357.5,324.2 M342.4,299.2 L357.5,312.2" stroke="#555" stroke-width="0.55" fill="none"/>
<path d="M434.5,318.7 C434,322.7 430,325.2 426,325.59999999999997" fill="none" stroke="#2a2a2a" stroke-width="1.05"/>
<path d="M433.5,327.5 C433,329.2 429,330.0 426,329.8" fill="none" stroke="#333" stroke-width="0.7"/>
<path d="M441.6,309.2 L426.5,324.2 M441.6,299.2 L426.5,312.2" stroke="#555" stroke-width="0.55" fill="none"/>
<rect x="358" y="302.0" width="68" height="3.2" fill="#858585" stroke="none" stroke-width="0.7" rx="0" />
<rect x="358" y="301.8" width="68" height="0.7" fill="#444" stroke="none" stroke-width="0.7" rx="0" />
<rect x="358" y="305.2" width="68" height="2.2" fill="#d4d4d4" stroke="none" stroke-width="0.7" rx="0" />
<rect x="360.5" y="305.7" width="13.35" height="1.2" fill="#fff" stroke="none" stroke-width="0.7" rx="0" />
<rect x="376.25" y="305.7" width="13.35" height="1.2" fill="#fff" stroke="none" stroke-width="0.7" rx="0" />
<rect x="392.0" y="305.7" width="13.35" height="1.2" fill="#fff" stroke="none" stroke-width="0.7" rx="0" />
<rect x="407.75" y="305.7" width="13.35" height="1.2" fill="#fff" stroke="none" stroke-width="0.7" rx="0" />
<path d="M358,307.4 H426 V326.7 L391.7,324.0 L358,326.7 Z" fill="url(#mesh)" stroke="#555" stroke-width="0.5"/>
<rect x="358" y="307.3" width="68" height="0.8" fill="#3a3a3a" stroke="none" stroke-width="0.7" rx="0" />
<line x1="358.4" y1="304.2" x2="358.4" y2="327.2" stroke="#1e1e1e" stroke-width="1.3" />
<line x1="425.6" y1="304.2" x2="425.6" y2="327.2" stroke="#1e1e1e" stroke-width="1.3" />
<line x1="391.7" y1="307.4" x2="391.7" y2="324.0" stroke="#333" stroke-width="0.9" />
<path d="M389.3,305.4 l1.8,2 M394.09999999999997,305.4 l-1.8,2" stroke="#111" stroke-width="0.9"/>
<rect x="389.9" y="320.4" width="3.6" height="1.5" fill="#f4f4f4" stroke="none" stroke-width="0.7" rx="0" />
<path d="M349.5,347.7 C350,351.7 354,354.2 358,354.59999999999997" fill="none" stroke="#2a2a2a" stroke-width="1.05"/>
<path d="M350.5,356.5 C351,358.2 355,359.0 358,358.8" fill="none" stroke="#333" stroke-width="0.7"/>
<path d="M342.4,338.2 L357.5,353.2 M342.4,328.2 L357.5,341.2" stroke="#555" stroke-width="0.55" fill="none"/>
<path d="M434.5,347.7 C434,351.7 430,354.2 426,354.59999999999997" fill="none" stroke="#2a2a2a" stroke-width="1.05"/>
<path d="M433.5,356.5 C433,358.2 429,359.0 426,358.8" fill="none" stroke="#333" stroke-width="0.7"/>
<path d="M441.6,338.2 L426.5,353.2 M441.6,328.2 L426.5,341.2" stroke="#555" stroke-width="0.55" fill="none"/>
<rect x="358" y="331.0" width="68" height="3.2" fill="#858585" stroke="none" stroke-width="0.7" rx="0" />
<rect x="358" y="330.8" width="68" height="0.7" fill="#444" stroke="none" stroke-width="0.7" rx="0" />
<rect x="358" y="334.2" width="68" height="2.2" fill="#d4d4d4" stroke="none" stroke-width="0.7" rx="0" />
<rect x="360.5" y="334.7" width="13.35" height="1.2" fill="#fff" stroke="none" stroke-width="0.7" rx="0" />
<rect x="376.25" y="334.7" width="13.35" height="1.2" fill="#fff" stroke="none" stroke-width="0.7" rx="0" />
<rect x="392.0" y="334.7" width="13.35" height="1.2" fill="#fff" stroke="none" stroke-width="0.7" rx="0" />
<rect x="407.75" y="334.7" width="13.35" height="1.2" fill="#fff" stroke="none" stroke-width="0.7" rx="0" />
<path d="M358,336.4 H426 V355.7 L391.7,353.0 L358,355.7 Z" fill="url(#mesh)" stroke="#555" stroke-width="0.5"/>
<rect x="358" y="336.3" width="68" height="0.8" fill="#3a3a3a" stroke="none" stroke-width="0.7" rx="0" />
<line x1="358.4" y1="333.2" x2="358.4" y2="356.2" stroke="#1e1e1e" stroke-width="1.3" />
<line x1="425.6" y1="333.2" x2="425.6" y2="356.2" stroke="#1e1e1e" stroke-width="1.3" />
<line x1="391.7" y1="336.4" x2="391.7" y2="353.0" stroke="#333" stroke-width="0.9" />
<path d="M389.3,334.4 l1.8,2 M394.09999999999997,334.4 l-1.8,2" stroke="#111" stroke-width="0.9"/>
<rect x="389.9" y="349.4" width="3.6" height="1.5" fill="#f4f4f4" stroke="none" stroke-width="0.7" rx="0" />
<path d="M349.5,377.2 C350,381.2 354,383.7 358,384.09999999999997" fill="none" stroke="#2a2a2a" stroke-width="1.05"/>
<path d="M350.5,386.0 C351,387.7 355,388.5 358,388.3" fill="none" stroke="#333" stroke-width="0.7"/>
<path d="M342.4,367.7 L357.5,382.7 M342.4,357.7 L357.5,370.7" stroke="#555" stroke-width="0.55" fill="none"/>
<path d="M434.5,377.2 C434,381.2 430,383.7 426,384.09999999999997" fill="none" stroke="#2a2a2a" stroke-width="1.05"/>
<path d="M433.5,386.0 C433,387.7 429,388.5 426,388.3" fill="none" stroke="#333" stroke-width="0.7"/>
<path d="M441.6,367.7 L426.5,382.7 M441.6,357.7 L426.5,370.7" stroke="#555" stroke-width="0.55" fill="none"/>
<rect x="358" y="360.5" width="68" height="3.2" fill="#858585" stroke="none" stroke-width="0.7" rx="0" />
<rect x="358" y="360.3" width="68" height="0.7" fill="#444" stroke="none" stroke-width="0.7" rx="0" />
<rect x="358" y="363.7" width="68" height="2.2" fill="#d4d4d4" stroke="none" stroke-width="0.7" rx="0" />
<rect x="360.5" y="364.2" width="13.35" height="1.2" fill="#fff" stroke="none" stroke-width="0.7" rx="0" />
<rect x="376.25" y="364.2" width="13.35" height="1.2" fill="#fff" stroke="none" stroke-width="0.7" rx="0" />
<rect x="392.0" y="364.2" width="13.35" height="1.2" fill="#fff" stroke="none" stroke-width="0.7" rx="0" />
<rect x="407.75" y="364.2" width="13.35" height="1.2" fill="#fff" stroke="none" stroke-width="0.7" rx="0" />
<path d="M358,365.9 H426 V385.2 L391.7,382.5 L358,385.2 Z" fill="url(#mesh)" stroke="#555" stroke-width="0.5"/>
<rect x="358" y="365.8" width="68" height="0.8" fill="#3a3a3a" stroke="none" stroke-width="0.7" rx="0" />
<line x1="358.4" y1="362.7" x2="358.4" y2="385.7" stroke="#1e1e1e" stroke-width="1.3" />
<line x1="425.6" y1="362.7" x2="425.6" y2="385.7" stroke="#1e1e1e" stroke-width="1.3" />
<line x1="391.7" y1="365.9" x2="391.7" y2="382.5" stroke="#333" stroke-width="0.9" />
<path d="M389.3,363.9 l1.8,2 M394.09999999999997,363.9 l-1.8,2" stroke="#111" stroke-width="0.9"/>
<rect x="389.9" y="378.9" width="3.6" height="1.5" fill="#f4f4f4" stroke="none" stroke-width="0.7" rx="0" />
<path d="M349.5,406.7 C350,410.7 354,413.2 358,413.59999999999997" fill="none" stroke="#2a2a2a" stroke-width="1.05"/>
<path d="M350.5,415.5 C351,417.2 355,418.0 358,417.8" fill="none" stroke="#333" stroke-width="0.7"/>
<path d="M342.4,397.2 L357.5,412.2 M342.4,387.2 L357.5,400.2" stroke="#555" stroke-width="0.55" fill="none"/>
<path d="M434.5,406.7 C434,410.7 430,413.2 426,413.59999999999997" fill="none" stroke="#2a2a2a" stroke-width="1.05"/>
<path d="M433.5,415.5 C433,417.2 429,418.0 426,417.8" fill="none" stroke="#333" stroke-width="0.7"/>
<path d="M441.6,397.2 L426.5,412.2 M441.6,387.2 L426.5,400.2" stroke="#555" stroke-width="0.55" fill="none"/>
<rect x="358" y="390.0" width="68" height="3.2" fill="#858585" stroke="none" stroke-width="0.7" rx="0" />
<rect x="358" y="389.8" width="68" height="0.7" fill="#444" stroke="none" stroke-width="0.7" rx="0" />
<rect x="358" y="393.2" width="68" height="2.2" fill="#d4d4d4" stroke="none" stroke-width="0.7" rx="0" />
<rect x="360.5" y="393.7" width="13.35" height="1.2" fill="#fff" stroke="none" stroke-width="0.7" rx="0" />
<rect x="376.25" y="393.7" width="13.35" height="1.2" fill="#fff" stroke="none" stroke-width="0.7" rx="0" />
<rect x="392.0" y="393.7" width="13.35" height="1.2" fill="#fff" stroke="none" stroke-width="0.7" rx="0" />
<rect x="407.75" y="393.7" width="13.35" height="1.2" fill="#fff" stroke="none" stroke-width="0.7" rx="0" />
<path d="M358,395.4 H426 V414.7 L391.7,412.0 L358,414.7 Z" fill="url(#mesh)" stroke="#555" stroke-width="0.5"/>
<rect x="358" y="395.3" width="68" height="0.8" fill="#3a3a3a" stroke="none" stroke-width="0.7" rx="0" />
<line x1="358.4" y1="392.2" x2="358.4" y2="415.2" stroke="#1e1e1e" stroke-width="1.3" />
<line x1="425.6" y1="392.2" x2="425.6" y2="415.2" stroke="#1e1e1e" stroke-width="1.3" />
<line x1="391.7" y1="395.4" x2="391.7" y2="412.0" stroke="#333" stroke-width="0.9" />
<path d="M389.3,393.4 l1.8,2 M394.09999999999997,393.4 l-1.8,2" stroke="#111" stroke-width="0.9"/>
<rect x="389.9" y="408.4" width="3.6" height="1.5" fill="#f4f4f4" stroke="none" stroke-width="0.7" rx="0" />
<rect x="358" y="419.5" width="68" height="2.4" fill="#9a9a9a" stroke="#444" stroke-width="0.5" rx="0" />
<rect x="358" y="422" width="68" height="5" fill="#fff" stroke="#444" stroke-width="0.6" rx="0" />
<rect x="361.0" y="423" width="10" height="2.4" fill="#fff" stroke="#777" stroke-width="0.4" rx="0" />
<rect x="373.4" y="423" width="10" height="2.4" fill="#fff" stroke="#777" stroke-width="0.4" rx="0" />
<rect x="385.8" y="423" width="10" height="2.4" fill="#fff" stroke="#777" stroke-width="0.4" rx="0" />
<rect x="398.2" y="423" width="10" height="2.4" fill="#fff" stroke="#777" stroke-width="0.4" rx="0" />
<rect x="410.6" y="423" width="10" height="2.4" fill="#fff" stroke="#777" stroke-width="0.4" rx="0" />
<line x1="358" y1="427" x2="358" y2="433.5" stroke="#333" stroke-width="0.9" />
<line x1="425.4" y1="427" x2="425.4" y2="433.5" stroke="#333" stroke-width="0.9" />
<line x1="391.7" y1="133" x2="391.7" y2="440" stroke="#777" stroke-width="0.5" stroke-dasharray="6,2"/>
<line x1="326" y1="433.5" x2="508" y2="433.5" stroke="#444" stroke-width="0.9" />
<line x1="442.5" y1="143" x2="508" y2="143" stroke="#6d6e71" stroke-width="0.7" />
<line x1="442.5" y1="151" x2="492" y2="151" stroke="#6d6e71" stroke-width="0.7" />
<line x1="508" y1="143" x2="508" y2="433.5" stroke="#6d6e71" stroke-width="0.7" />
<path d="M508,143 l-1,3 h2 z M508,433.5 l-1,-3 h2 z" fill="#6d6e71"/>
<text x="503.3" y="260" font-size="10" fill="#6a6a6a" text-anchor="middle" dominant-baseline="central" font-weight="normal" letter-spacing="0.3" transform="rotate(-90 503.3 260)">B</text>
<line x1="492" y1="151" x2="492" y2="433.5" stroke="#6d6e71" stroke-width="0.7" />
<path d="M492,151 l-1,3 h2 z M492,433.5 l-1,-3 h2 z" fill="#6d6e71"/>
<text x="487.4" y="260" font-size="10" fill="#6a6a6a" text-anchor="middle" dominant-baseline="central" font-weight="normal" letter-spacing="0.3" transform="rotate(-90 487.4 260)">A</text>
<line x1="468" y1="286.5" x2="468" y2="433.5" stroke="#6d6e71" stroke-width="0.7" />
<path d="M468,286.5 l-1,3 h2 z M468,433.5 l-1,-3 h2 z" fill="#6d6e71"/>
<text x="462" y="358.6" font-size="10" fill="#6a6a6a" text-anchor="middle" dominant-baseline="central" font-weight="normal" letter-spacing="0.3" transform="rotate(-90 462 358.6)">C</text>
<line x1="331.5" y1="210.5" x2="346" y2="210.5" stroke="#6d6e71" stroke-width="0.7" />
<line x1="331.5" y1="240" x2="346" y2="240" stroke="#6d6e71" stroke-width="0.7" />
<line x1="331.5" y1="210.5" x2="331.5" y2="240" stroke="#6d6e71" stroke-width="0.7" />
<path d="M331.5,210.5 l-1,3 h2 z M331.5,240 l-1,-3 h2 z" fill="#6d6e71"/>
<text x="325" y="224.5" font-size="10.8" fill="#6a6a6a" text-anchor="middle" dominant-baseline="central" font-weight="normal" letter-spacing="0.3" transform="rotate(-90 325 224.5)">680</text>
<line x1="330.4" y1="358.6" x2="343" y2="358.6" stroke="#6d6e71" stroke-width="0.7" />
<line x1="330.4" y1="388.6" x2="343" y2="388.6" stroke="#6d6e71" stroke-width="0.7" />
<line x1="330.4" y1="358.6" x2="330.4" y2="388.6" stroke="#6d6e71" stroke-width="0.7" />
<path d="M330.4,358.6 l-1,3 h2 z M330.4,388.6 l-1,-3 h2 z" fill="#6d6e71"/>
<text x="325.5" y="373.6" font-size="10.8" fill="#6a6a6a" text-anchor="middle" dominant-baseline="central" font-weight="normal" letter-spacing="0.3" transform="rotate(-90 325.5 373.6)">680</text>
<line x1="348.6" y1="434" x2="348.6" y2="478" stroke="#6d6e71" stroke-width="0.7" />
<line x1="435.8" y1="434" x2="435.8" y2="478" stroke="#6d6e71" stroke-width="0.7" />
<line x1="358" y1="434" x2="358" y2="460" stroke="#6d6e71" stroke-width="0.7" />
<line x1="426" y1="434" x2="426" y2="460" stroke="#6d6e71" stroke-width="0.7" />
<line x1="358" y1="458" x2="426" y2="458" stroke="#6d6e71" stroke-width="0.7" />
<path d="M358,458 l3,-1 v2 z M426,458 l-3,-1 v2 z" fill="#6d6e71"/>
<text x="392.0" y="452.6" font-size="11" fill="#6a6a6a" text-anchor="middle" dominant-baseline="central" font-weight="normal" letter-spacing="0.3">1535</text>
<line x1="348.6" y1="475.8" x2="435.8" y2="475.8" stroke="#6d6e71" stroke-width="0.7" />
<path d="M348.6,475.8 l3,-1 v2 z M435.8,475.8 l-3,-1 v2 z" fill="#6d6e71"/>
<text x="392.20000000000005" y="471" font-size="11" fill="#6a6a6a" text-anchor="middle" dominant-baseline="central" font-weight="normal" letter-spacing="0.3">1950</text>
<line x1="548.7" y1="260" x2="548.7" y2="292" stroke="#6d6e71" stroke-width="0.7" />
<line x1="650.7" y1="260" x2="650.7" y2="292" stroke="#6d6e71" stroke-width="0.7" />
<line x1="548.7" y1="265.6" x2="650.7" y2="265.6" stroke="#6d6e71" stroke-width="0.7" />
<path d="M548.7,265.6 l3,-1 v2 z M650.7,265.6 l-3,-1 v2 z" fill="#6d6e71"/>
<text x="599.7" y="262" font-size="7.2" fill="#6a6a6a" text-anchor="middle" dominant-baseline="central" font-weight="normal" letter-spacing="0.7">2310</text>
<line x1="557.2" y1="271" x2="557.2" y2="292" stroke="#6d6e71" stroke-width="0.7" />
<line x1="642.2" y1="271" x2="642.2" y2="292" stroke="#6d6e71" stroke-width="0.7" />
<line x1="557.2" y1="276.4" x2="642.2" y2="276.4" stroke="#6d6e71" stroke-width="0.7" />
<path d="M557.2,276.4 l3,-1 v2 z M642.2,276.4 l-3,-1 v2 z" fill="#6d6e71"/>
<text x="599.7" y="273" font-size="7.2" fill="#6a6a6a" text-anchor="middle" dominant-baseline="central" font-weight="normal" letter-spacing="0.7">1930</text>
<path d="M549,291.6 H650.7 M553,292.8 H646.5 M553,295.2 H646.5 M566,298.2 H634" stroke="#555" stroke-width="0.6" fill="none"/>
<rect x="596.5" y="291.8" width="7" height="5.6" fill="#fff" stroke="#333" stroke-width="0.6" rx="0" />
<rect x="598.6" y="292.4" width="2.8" height="2.4" fill="#222" stroke="none" stroke-width="0.7" rx="0" />
<rect x="563.4" y="291.8" width="3" height="13" fill="#3a3a3a" stroke="none" stroke-width="0.7" rx="0" />
<rect x="633.6" y="291.8" width="3" height="13" fill="#3a3a3a" stroke="none" stroke-width="0.7" rx="0" />
<rect x="549.2" y="291.6" width="4.6" height="118.4" fill="#f0f0f0" stroke="#333" stroke-width="0.8" rx="0" />
<line x1="551.5" y1="293" x2="551.5" y2="409" stroke="#999" stroke-width="0.4" />
<rect x="549.6" y="321" width="3.8" height="15" fill="#cfcfcf" stroke="#444" stroke-width="0.6" rx="0" />
<rect x="549.6" y="351" width="3.8" height="15" fill="#cfcfcf" stroke="#444" stroke-width="0.6" rx="0" />
<rect x="549.6" y="380" width="3.8" height="16" fill="#cfcfcf" stroke="#444" stroke-width="0.6" rx="0" />
<rect x="645.8" y="291.6" width="4.6" height="118.4" fill="#f0f0f0" stroke="#333" stroke-width="0.8" rx="0" />
<line x1="648.0999999999999" y1="293" x2="648.0999999999999" y2="409" stroke="#999" stroke-width="0.4" />
<rect x="646.1999999999999" y="321" width="3.8" height="15" fill="#cfcfcf" stroke="#444" stroke-width="0.6" rx="0" />
<rect x="646.1999999999999" y="351" width="3.8" height="15" fill="#cfcfcf" stroke="#444" stroke-width="0.6" rx="0" />
<rect x="646.1999999999999" y="380" width="3.8" height="16" fill="#cfcfcf" stroke="#444" stroke-width="0.6" rx="0" />
<line x1="558" y1="298" x2="558" y2="410" stroke="#777" stroke-width="0.45" />
<line x1="641.6" y1="298" x2="641.6" y2="410" stroke="#777" stroke-width="0.45" />
<path d="M557.5,318.7 C558,322.7 562,325.2 566,325.59999999999997" fill="none" stroke="#2a2a2a" stroke-width="1.05"/>
<path d="M558.5,327.5 C559,329.2 563,330.0 566,329.8" fill="none" stroke="#333" stroke-width="0.7"/>
<path d="M550.4,309.2 L565.5,324.2 M550.4,299.2 L565.5,312.2" stroke="#555" stroke-width="0.55" fill="none"/>
<path d="M642.5,318.7 C642,322.7 638,325.2 634,325.59999999999997" fill="none" stroke="#2a2a2a" stroke-width="1.05"/>
<path d="M641.5,327.5 C641,329.2 637,330.0 634,329.8" fill="none" stroke="#333" stroke-width="0.7"/>
<path d="M649.6,309.2 L634.5,324.2 M649.6,299.2 L634.5,312.2" stroke="#555" stroke-width="0.55" fill="none"/>
<rect x="565.5" y="303.9" width="69" height="1.3" fill="#2a2a2a" stroke="none" stroke-width="0.7" rx="0" />
<rect x="566" y="305.2" width="68" height="2.2" fill="#d4d4d4" stroke="none" stroke-width="0.7" rx="0" />
<rect x="568.5" y="305.7" width="13.35" height="1.2" fill="#fff" stroke="none" stroke-width="0.7" rx="0" />
<rect x="584.25" y="305.7" width="13.35" height="1.2" fill="#fff" stroke="none" stroke-width="0.7" rx="0" />
<rect x="600.0" y="305.7" width="13.35" height="1.2" fill="#fff" stroke="none" stroke-width="0.7" rx="0" />
<rect x="615.75" y="305.7" width="13.35" height="1.2" fill="#fff" stroke="none" stroke-width="0.7" rx="0" />
<path d="M566,307.4 H634 V326.7 L600,324.0 L566,326.7 Z" fill="url(#mesh2)" stroke="#555" stroke-width="0.5"/>
<rect x="566" y="307.3" width="68" height="0.8" fill="#3a3a3a" stroke="none" stroke-width="0.7" rx="0" />
<line x1="566.4" y1="304.2" x2="566.4" y2="327.2" stroke="#1e1e1e" stroke-width="1.3" />
<line x1="633.6" y1="304.2" x2="633.6" y2="327.2" stroke="#1e1e1e" stroke-width="1.3" />
<line x1="600" y1="307.4" x2="600" y2="324.0" stroke="#333" stroke-width="0.9" />
<path d="M597.6,305.4 l1.8,2 M602.4,305.4 l-1.8,2" stroke="#111" stroke-width="0.9"/>
<rect x="597.7" y="323.6" width="4.6" height="5.2" fill="#fff" stroke="#333" stroke-width="0.6" rx="0" />
<path d="M557.5,348.3 C558,352.3 562,354.8 566,355.2" fill="none" stroke="#2a2a2a" stroke-width="1.05"/>
<path d="M558.5,357.1 C559,358.8 563,359.6 566,359.40000000000003" fill="none" stroke="#333" stroke-width="0.7"/>
<path d="M550.4,338.8 L565.5,353.8 M550.4,328.8 L565.5,341.8" stroke="#555" stroke-width="0.55" fill="none"/>
<path d="M642.5,348.3 C642,352.3 638,354.8 634,355.2" fill="none" stroke="#2a2a2a" stroke-width="1.05"/>
<path d="M641.5,357.1 C641,358.8 637,359.6 634,359.40000000000003" fill="none" stroke="#333" stroke-width="0.7"/>
<path d="M649.6,338.8 L634.5,353.8 M649.6,328.8 L634.5,341.8" stroke="#555" stroke-width="0.55" fill="none"/>
<rect x="565.5" y="333.5" width="69" height="1.3" fill="#2a2a2a" stroke="none" stroke-width="0.7" rx="0" />
<rect x="566" y="334.8" width="68" height="2.2" fill="#d4d4d4" stroke="none" stroke-width="0.7" rx="0" />
<rect x="568.5" y="335.3" width="13.35" height="1.2" fill="#fff" stroke="none" stroke-width="0.7" rx="0" />
<rect x="584.25" y="335.3" width="13.35" height="1.2" fill="#fff" stroke="none" stroke-width="0.7" rx="0" />
<rect x="600.0" y="335.3" width="13.35" height="1.2" fill="#fff" stroke="none" stroke-width="0.7" rx="0" />
<rect x="615.75" y="335.3" width="13.35" height="1.2" fill="#fff" stroke="none" stroke-width="0.7" rx="0" />
<path d="M566,337.0 H634 V356.3 L600,353.6 L566,356.3 Z" fill="url(#mesh2)" stroke="#555" stroke-width="0.5"/>
<rect x="566" y="336.90000000000003" width="68" height="0.8" fill="#3a3a3a" stroke="none" stroke-width="0.7" rx="0" />
<line x1="566.4" y1="333.8" x2="566.4" y2="356.8" stroke="#1e1e1e" stroke-width="1.3" />
<line x1="633.6" y1="333.8" x2="633.6" y2="356.8" stroke="#1e1e1e" stroke-width="1.3" />
<line x1="600" y1="337.0" x2="600" y2="353.6" stroke="#333" stroke-width="0.9" />
<path d="M597.6,335.0 l1.8,2 M602.4,335.0 l-1.8,2" stroke="#111" stroke-width="0.9"/>
<rect x="597.7" y="353.20000000000005" width="4.6" height="5.2" fill="#fff" stroke="#333" stroke-width="0.6" rx="0" />
<path d="M557.5,377.7 C558,381.7 562,384.2 566,384.59999999999997" fill="none" stroke="#2a2a2a" stroke-width="1.05"/>
<path d="M558.5,386.5 C559,388.2 563,389.0 566,388.8" fill="none" stroke="#333" stroke-width="0.7"/>
<path d="M550.4,368.2 L565.5,383.2 M550.4,358.2 L565.5,371.2" stroke="#555" stroke-width="0.55" fill="none"/>
<path d="M642.5,377.7 C642,381.7 638,384.2 634,384.59999999999997" fill="none" stroke="#2a2a2a" stroke-width="1.05"/>
<path d="M641.5,386.5 C641,388.2 637,389.0 634,388.8" fill="none" stroke="#333" stroke-width="0.7"/>
<path d="M649.6,368.2 L634.5,383.2 M649.6,358.2 L634.5,371.2" stroke="#555" stroke-width="0.55" fill="none"/>
<rect x="565.5" y="362.9" width="69" height="1.3" fill="#2a2a2a" stroke="none" stroke-width="0.7" rx="0" />
<rect x="566" y="364.2" width="68" height="2.2" fill="#d4d4d4" stroke="none" stroke-width="0.7" rx="0" />
<rect x="568.5" y="364.7" width="13.35" height="1.2" fill="#fff" stroke="none" stroke-width="0.7" rx="0" />
<rect x="584.25" y="364.7" width="13.35" height="1.2" fill="#fff" stroke="none" stroke-width="0.7" rx="0" />
<rect x="600.0" y="364.7" width="13.35" height="1.2" fill="#fff" stroke="none" stroke-width="0.7" rx="0" />
<rect x="615.75" y="364.7" width="13.35" height="1.2" fill="#fff" stroke="none" stroke-width="0.7" rx="0" />
<path d="M566,366.4 H634 V385.7 L600,383.0 L566,385.7 Z" fill="url(#mesh2)" stroke="#555" stroke-width="0.5"/>
<rect x="566" y="366.3" width="68" height="0.8" fill="#3a3a3a" stroke="none" stroke-width="0.7" rx="0" />
<line x1="566.4" y1="363.2" x2="566.4" y2="386.2" stroke="#1e1e1e" stroke-width="1.3" />
<line x1="633.6" y1="363.2" x2="633.6" y2="386.2" stroke="#1e1e1e" stroke-width="1.3" />
<line x1="600" y1="366.4" x2="600" y2="383.0" stroke="#333" stroke-width="0.9" />
<path d="M597.6,364.4 l1.8,2 M602.4,364.4 l-1.8,2" stroke="#111" stroke-width="0.9"/>
<rect x="597.7" y="382.6" width="4.6" height="5.2" fill="#fff" stroke="#333" stroke-width="0.6" rx="0" />
<path d="M557.5,408.1 C558,412.1 562,414.6 566,415.0" fill="none" stroke="#2a2a2a" stroke-width="1.05"/>
<path d="M558.5,416.90000000000003 C559,418.6 563,419.40000000000003 566,419.20000000000005" fill="none" stroke="#333" stroke-width="0.7"/>
<path d="M550.4,398.6 L565.5,413.6 M550.4,388.6 L565.5,401.6" stroke="#555" stroke-width="0.55" fill="none"/>
<path d="M642.5,408.1 C642,412.1 638,414.6 634,415.0" fill="none" stroke="#2a2a2a" stroke-width="1.05"/>
<path d="M641.5,416.90000000000003 C641,418.6 637,419.40000000000003 634,419.20000000000005" fill="none" stroke="#333" stroke-width="0.7"/>
<path d="M649.6,398.6 L634.5,413.6 M649.6,388.6 L634.5,401.6" stroke="#555" stroke-width="0.55" fill="none"/>
<rect x="565.5" y="393.3" width="69" height="1.3" fill="#2a2a2a" stroke="none" stroke-width="0.7" rx="0" />
<rect x="566" y="394.6" width="68" height="2.2" fill="#d4d4d4" stroke="none" stroke-width="0.7" rx="0" />
<rect x="568.5" y="395.1" width="13.35" height="1.2" fill="#fff" stroke="none" stroke-width="0.7" rx="0" />
<rect x="584.25" y="395.1" width="13.35" height="1.2" fill="#fff" stroke="none" stroke-width="0.7" rx="0" />
<rect x="600.0" y="395.1" width="13.35" height="1.2" fill="#fff" stroke="none" stroke-width="0.7" rx="0" />
<rect x="615.75" y="395.1" width="13.35" height="1.2" fill="#fff" stroke="none" stroke-width="0.7" rx="0" />
<path d="M566,396.8 H634 V416.1 L600,413.40000000000003 L566,416.1 Z" fill="url(#mesh2)" stroke="#555" stroke-width="0.5"/>
<rect x="566" y="396.70000000000005" width="68" height="0.8" fill="#3a3a3a" stroke="none" stroke-width="0.7" rx="0" />
<line x1="566.4" y1="393.6" x2="566.4" y2="416.6" stroke="#1e1e1e" stroke-width="1.3" />
<line x1="633.6" y1="393.6" x2="633.6" y2="416.6" stroke="#1e1e1e" stroke-width="1.3" />
<line x1="600" y1="396.8" x2="600" y2="413.40000000000003" stroke="#333" stroke-width="0.9" />
<path d="M597.6,394.8 l1.8,2 M602.4,394.8 l-1.8,2" stroke="#111" stroke-width="0.9"/>
<rect x="597.7" y="413.00000000000006" width="4.6" height="5.2" fill="#fff" stroke="#333" stroke-width="0.6" rx="0" />
<rect x="565.6" y="422.2" width="68.4" height="0.9" fill="#333" stroke="none" stroke-width="0.7" rx="0" />
<rect x="565.6" y="423.6" width="68.4" height="3.4" fill="#e6e6e6" stroke="#444" stroke-width="0.5" rx="0" />
<rect x="568.0" y="424.4" width="14" height="1.8" fill="#fff" stroke="none" stroke-width="0.7" rx="0" />
<rect x="584.7" y="424.4" width="14" height="1.8" fill="#fff" stroke="none" stroke-width="0.7" rx="0" />
<rect x="601.4" y="424.4" width="14" height="1.8" fill="#fff" stroke="none" stroke-width="0.7" rx="0" />
<rect x="618.1" y="424.4" width="14" height="1.8" fill="#fff" stroke="none" stroke-width="0.7" rx="0" />
<line x1="565.8" y1="427" x2="565.8" y2="433.8" stroke="#333" stroke-width="0.9" />
<line x1="633.6" y1="427" x2="633.6" y2="433.8" stroke="#333" stroke-width="0.9" />
<path d="M553.8,392 L566,408 M645.8,392 L634,408" stroke="#555" stroke-width="0.6"/>
<circle cx="556.5" cy="405" r="1.6" fill="none" stroke="#7a8a3a" stroke-width="0.7"/><circle cx="643.5" cy="405" r="1.6" fill="none" stroke="#7a8a3a" stroke-width="0.7"/>
<line x1="600" y1="283" x2="600" y2="445" stroke="#777" stroke-width="0.5" stroke-dasharray="6,2"/>
<line x1="541.7" y1="433.8" x2="696.7" y2="433.8" stroke="#444" stroke-width="0.9" />
<line x1="655.8" y1="295" x2="696" y2="295" stroke="#6d6e71" stroke-width="0.7" />
<line x1="650.7" y1="303" x2="678" y2="303" stroke="#6d6e71" stroke-width="0.7" />
<line x1="696" y1="295" x2="696" y2="433.8" stroke="#6d6e71" stroke-width="0.7" />
<path d="M696,295 l-1,3 h2 z M696,433.8 l-1,-3 h2 z" fill="#6d6e71"/>
<text x="692.3" y="368" font-size="10" fill="#6a6a6a" text-anchor="middle" dominant-baseline="central" font-weight="normal" letter-spacing="0.3" transform="rotate(-90 692.3 368)">B</text>
<line x1="677.8" y1="303" x2="677.8" y2="433.8" stroke="#6d6e71" stroke-width="0.7" />
<path d="M677.8,303 l-1,3 h2 z M677.8,433.8 l-1,-3 h2 z" fill="#6d6e71"/>
<text x="672" y="368" font-size="10" fill="#6a6a6a" text-anchor="middle" dominant-baseline="central" font-weight="normal" letter-spacing="0.3" transform="rotate(-90 672 368)">A</text>
<line x1="538" y1="359" x2="551" y2="359" stroke="#6d6e71" stroke-width="0.7" />
<line x1="538" y1="389.5" x2="551" y2="389.5" stroke="#6d6e71" stroke-width="0.7" />
<line x1="538" y1="359" x2="538" y2="389.5" stroke="#6d6e71" stroke-width="0.7" />
<path d="M538,359 l-1,3 h2 z M538,389.5 l-1,-3 h2 z" fill="#6d6e71"/>
<text x="532" y="373.6" font-size="10.8" fill="#6a6a6a" text-anchor="middle" dominant-baseline="central" font-weight="normal" letter-spacing="0.3" transform="rotate(-90 532 373.6)">680</text>
<line x1="557" y1="434" x2="557" y2="478" stroke="#6d6e71" stroke-width="0.7" />
<line x1="641.6" y1="434" x2="641.6" y2="478" stroke="#6d6e71" stroke-width="0.7" />
<line x1="566.3" y1="434" x2="566.3" y2="462" stroke="#6d6e71" stroke-width="0.7" />
<line x1="633" y1="434" x2="633" y2="462" stroke="#6d6e71" stroke-width="0.7" />
<line x1="566.3" y1="459.6" x2="633" y2="459.6" stroke="#6d6e71" stroke-width="0.7" />
<path d="M566.3,459.6 l3,-1 v2 z M633,459.6 l-3,-1 v2 z" fill="#6d6e71"/>
<text x="599.65" y="453.6" font-size="11" fill="#6a6a6a" text-anchor="middle" dominant-baseline="central" font-weight="normal" letter-spacing="0.3">1535</text>
<line x1="557" y1="475.8" x2="641.6" y2="475.8" stroke="#6d6e71" stroke-width="0.7" />
<path d="M557,475.8 l3,-1 v2 z M641.6,475.8 l-3,-1 v2 z" fill="#6d6e71"/>
<text x="599.3" y="471" font-size="11" fill="#6a6a6a" text-anchor="middle" dominant-baseline="central" font-weight="normal" letter-spacing="0.3">1930</text>
<line x1="769.6" y1="361" x2="769.6" y2="468.5" stroke="#333" stroke-width="0.9" />
<line x1="772.7" y1="361" x2="772.7" y2="468.5" stroke="#333" stroke-width="0.9" />
<line x1="931.5" y1="361" x2="931.5" y2="468.5" stroke="#333" stroke-width="0.9" />
<line x1="935" y1="361" x2="935" y2="468.5" stroke="#333" stroke-width="0.9" />
<path d="M774,369.3 H931 M776,372.3 H929 M776,375.4 H929" stroke="#555" stroke-width="0.7" fill="none"/>
<path d="M774,369.3 q2,-1 2,-3 q0,-2 -1.5,-3 M931,369.3 q-2,-1 -2,-3 q0,-2 1.5,-3" stroke="#555" stroke-width="0.7" fill="none"/>
<rect x="771.6" y="377.4" width="2.2" height="63.3" fill="#333" stroke="none" stroke-width="0.7" rx="0" />
<rect x="931.2" y="377.4" width="2.2" height="63.3" fill="#333" stroke="none" stroke-width="0.7" rx="0" />
<line x1="773.7" y1="378.5" x2="932" y2="378.5" stroke="#333" stroke-width="1.0" />
<line x1="774" y1="382.2" x2="931" y2="382.2" stroke="#555" stroke-width="0.85" />
<line x1="774" y1="385.9" x2="931" y2="385.9" stroke="#555" stroke-width="0.85" />
<line x1="774" y1="389.59999999999997" x2="931" y2="389.59999999999997" stroke="#555" stroke-width="0.85" />
<line x1="774" y1="393.3" x2="931" y2="393.3" stroke="#555" stroke-width="0.85" />
<line x1="774" y1="397.0" x2="931" y2="397.0" stroke="#555" stroke-width="0.85" />
<line x1="774" y1="400.7" x2="931" y2="400.7" stroke="#555" stroke-width="0.85" />
<line x1="774" y1="404.4" x2="931" y2="404.4" stroke="#555" stroke-width="0.85" />
<line x1="774" y1="408.09999999999997" x2="931" y2="408.09999999999997" stroke="#555" stroke-width="0.85" />
<line x1="774" y1="411.8" x2="931" y2="411.8" stroke="#555" stroke-width="0.85" />
<line x1="774" y1="415.5" x2="931" y2="415.5" stroke="#555" stroke-width="0.85" />
<line x1="774" y1="419.2" x2="931" y2="419.2" stroke="#555" stroke-width="0.85" />
<line x1="774" y1="422.9" x2="931" y2="422.9" stroke="#555" stroke-width="0.85" />
<line x1="774" y1="426.6" x2="931" y2="426.6" stroke="#555" stroke-width="0.85" />
<line x1="774" y1="430.3" x2="931" y2="430.3" stroke="#555" stroke-width="0.85" />
<line x1="774" y1="434.0" x2="931" y2="434.0" stroke="#555" stroke-width="0.85" />
<line x1="774" y1="437.7" x2="931" y2="437.7" stroke="#555" stroke-width="0.85" />
<line x1="777.8" y1="378.5" x2="777.8" y2="441" stroke="#555" stroke-width="0.6" />
<line x1="781.8" y1="378.5" x2="781.8" y2="441" stroke="#555" stroke-width="0.6" />
<line x1="796.5" y1="378.5" x2="796.5" y2="441" stroke="#555" stroke-width="0.6" />
<line x1="810" y1="378.5" x2="810" y2="441" stroke="#555" stroke-width="0.6" />
<line x1="822.4" y1="378.5" x2="822.4" y2="441" stroke="#555" stroke-width="0.6" />
<line x1="833.5" y1="378.5" x2="833.5" y2="441" stroke="#555" stroke-width="0.6" />
<line x1="843.4" y1="378.5" x2="843.4" y2="441" stroke="#555" stroke-width="0.6" />
<line x1="861" y1="378.5" x2="861" y2="441" stroke="#555" stroke-width="0.6" />
<line x1="867.3" y1="378.5" x2="867.3" y2="441" stroke="#555" stroke-width="0.6" />
<line x1="873.5" y1="378.5" x2="873.5" y2="441" stroke="#555" stroke-width="0.6" />
<line x1="883.4" y1="378.5" x2="883.4" y2="441" stroke="#555" stroke-width="0.6" />
<line x1="889.5" y1="378.5" x2="889.5" y2="441" stroke="#555" stroke-width="0.6" />
<line x1="895.7" y1="378.5" x2="895.7" y2="441" stroke="#555" stroke-width="0.6" />
<line x1="910.5" y1="378.5" x2="910.5" y2="441" stroke="#555" stroke-width="0.6" />
<line x1="925" y1="378.5" x2="925" y2="441" stroke="#555" stroke-width="0.6" />
<path d="M808.5,384 l1.5,-3 l1.5,3 z" fill="none" stroke="#555" stroke-width="0.5"/>
<path d="M831.5,384 l1.5,-3 l1.5,3 z" fill="none" stroke="#555" stroke-width="0.5"/>
<path d="M862.5,384 l1.5,-3 l1.5,3 z" fill="none" stroke="#555" stroke-width="0.5"/>
<path d="M893.5,384 l1.5,-3 l1.5,3 z" fill="none" stroke="#555" stroke-width="0.5"/>
<rect x="851.5" y="378.5" width="4.5" height="56" fill="#9a9a9a" stroke="#444" stroke-width="0.6" rx="0" />
<rect x="851.2" y="392" width="5" height="4" fill="#fff" stroke="#333" stroke-width="0.6" rx="0" />
<rect x="851.2" y="402" width="5" height="4" fill="#fff" stroke="#333" stroke-width="0.6" rx="0" />
<circle cx="853.7" cy="412" r="2.2" fill="#fff" stroke="#333" stroke-width="0.6"/>
<path d="M774,446 L853.7,434.7 L932,446" fill="none" stroke="#333" stroke-width="1"/>
<circle cx="777.8" cy="445.4" r="1.3" fill="#222"/>
<circle cx="798.2" cy="442.8" r="1.3" fill="#222"/>
<circle cx="817" cy="440.1" r="1.3" fill="#222"/>
<circle cx="837" cy="437.2" r="1.3" fill="#222"/>
<circle cx="870" cy="437.2" r="1.3" fill="#222"/>
<circle cx="890" cy="440.1" r="1.3" fill="#222"/>
<circle cx="910" cy="442.8" r="1.3" fill="#222"/>
<circle cx="929" cy="445.4" r="1.3" fill="#222"/>
<path d="M834,430 l2,6 l2,-6 M870,430 l2,6 l2,-6" fill="none" stroke="#333" stroke-width="0.8"/>
<path d="M844,437 V450 q0,2.6 3,2.6 H860 q3,0 3,-2.6 V437" fill="#fff" stroke="#555" stroke-width="0.7"/>
<path d="M774,456 H931 M776,459 H929" stroke="#555" stroke-width="0.7" fill="none"/>
<path d="M774,456 q2,1 2,3 q0,2 -1.5,3 M931,456 q-2,1 -2,3 q0,2 1.5,3" stroke="#555" stroke-width="0.7" fill="none"/>
<rect x="766.6" y="388.5" width="4" height="31.5" fill="#e8e8e8" stroke="#333" stroke-width="0.8" rx="2" />
<rect x="934.4" y="388.5" width="4" height="31.5" fill="#e8e8e8" stroke="#333" stroke-width="0.8" rx="2" />
<path d="M748,414.5 Q744,417 746.1,420 L759.4,435.6 Q763,438.6 772.7,438.7 M750,419 L761,432.5 Q764,435 771,435.5 M746.1,441.7 Q748,449 754,449 Q762,448 770.6,445.8" stroke="#333" stroke-width="0.8" fill="none"/>
<path d="M957,414.5 Q961,417 958.9,420 L945.6,435.6 Q942,438.6 932.3,438.7 M955,419 L944,432.5 Q941,435 934,435.5 M958.9,441.7 Q957,449 951,449 Q943,448 934.4,445.8" stroke="#333" stroke-width="0.8" fill="none"/>
<line x1="853.7" y1="360.7" x2="853.7" y2="478" stroke="#555" stroke-width="0.6" />
<line x1="730" y1="369.2" x2="770" y2="369.2" stroke="#6d6e71" stroke-width="0.7" />
<line x1="730" y1="457.4" x2="770" y2="457.4" stroke="#6d6e71" stroke-width="0.7" />
<line x1="730.3" y1="369.2" x2="730.3" y2="457.4" stroke="#6d6e71" stroke-width="0.7" />
<path d="M730.3,369.2 l-1,3 h2 z M730.3,457.4 l-1,-3 h2 z" fill="#6d6e71"/>
<text x="724.8" y="413" font-size="11" fill="#2a2a2a" text-anchor="middle" dominant-baseline="central" font-weight="normal" letter-spacing="0" transform="rotate(-90 724.8 413)" stroke="#2a2a2a" stroke-width="0.45">680</text>
<line x1="936" y1="374.6" x2="987" y2="374.6" stroke="#6d6e71" stroke-width="0.7" />
<line x1="936" y1="445.8" x2="987" y2="445.8" stroke="#6d6e71" stroke-width="0.7" />
<line x1="985.9" y1="374.6" x2="985.9" y2="445.8" stroke="#6d6e71" stroke-width="0.7" />
<path d="M985.9,374.6 l-1,3 h2 z M985.9,445.8 l-1,-3 h2 z" fill="#6d6e71"/>
<text x="977.3" y="411.7" font-size="11" fill="#2a2a2a" text-anchor="middle" dominant-baseline="central" font-weight="normal" letter-spacing="0" transform="rotate(-90 977.3 411.7)" stroke="#2a2a2a" stroke-width="0.45">555</text>
<line x1="936.5" y1="462" x2="936.5" y2="479" stroke="#6d6e71" stroke-width="0.7" />
<line x1="853.7" y1="477.7" x2="936.5" y2="477.7" stroke="#6d6e71" stroke-width="0.7" />
<path d="M853.7,477.7 l3,-1 v2 z M936.5,477.7 l-3,-1 v2 z" fill="#6d6e71"/>
<text x="892" y="470" font-size="11" fill="#2a2a2a" text-anchor="middle" dominant-baseline="central" font-weight="normal" letter-spacing="0" stroke="#2a2a2a" stroke-width="0.45">782</text>
<line x1="833" y1="378" x2="833" y2="437" stroke="#333" stroke-width="0.9" />
<rect x="823" y="396" width="9" height="16.6" fill="#fff" stroke="#555" stroke-width="0.5" rx="0" />
<text x="827.5" y="404.3" font-size="8.5" fill="#333" text-anchor="middle" dominant-baseline="central" font-weight="normal" letter-spacing="0" transform="rotate(-90 827.5 404.3)">450</text>
<rect x="716" y="75" width="75" height="28" fill="#e31e25" stroke="none" stroke-width="0.7" rx="0" />
<rect x="793" y="75" width="64" height="28" fill="#e31e25" stroke="none" stroke-width="0.7" rx="0" />
<rect x="859" y="75" width="65" height="28" fill="#e31e25" stroke="none" stroke-width="0.7" rx="0" />
<rect x="926" y="75" width="64" height="28" fill="#e31e25" stroke="none" stroke-width="0.7" rx="0" />
<rect x="790.6" y="103" width="2" height="224" fill="#0a0a0a" stroke="none" stroke-width="0.7" rx="0" />
<rect x="856.6" y="103" width="2" height="224" fill="#0a0a0a" stroke="none" stroke-width="0.7" rx="0" />
<rect x="922.7" y="103" width="2" height="224" fill="#0a0a0a" stroke="none" stroke-width="0.7" rx="0" />
<rect x="716" y="130.25" width="274" height="1.5" fill="#e65454" stroke="none" stroke-width="0.7" rx="0" />
<rect x="716" y="158.25" width="274" height="1.5" fill="#e65454" stroke="none" stroke-width="0.7" rx="0" />
<rect x="716" y="186.25" width="274" height="1.5" fill="#e65454" stroke="none" stroke-width="0.7" rx="0" />
<rect x="716" y="214.25" width="274" height="1.5" fill="#e65454" stroke="none" stroke-width="0.7" rx="0" />
<rect x="716" y="242.25" width="274" height="1.5" fill="#e65454" stroke="none" stroke-width="0.7" rx="0" />
<rect x="716" y="270.25" width="274" height="1.5" fill="#e65454" stroke="none" stroke-width="0.7" rx="0" />
<rect x="716" y="298.25" width="274" height="1.5" fill="#e65454" stroke="none" stroke-width="0.7" rx="0" />
<rect x="0" y="586" width="1000" height="1" fill="#ececec" stroke="none" stroke-width="0.7" rx="0" />
</svg>
<div class="t" style="left:15px;top:6px;letter-spacing:0.42px">歐式C3加深型的單位模組，其面寬為240公分，深度為156.4公分，有兩種配置方案可供選擇。</div>
<div class="t" style="left:15px;top:32px;letter-spacing:0.54px">分隔型面寬為240公分，深度78.2公分，以中央格網區分為兩單元，每單元可養25羽母雞</div>
<div class="t" style="left:15px;top:57px;letter-spacing:0.28px">貫通型面寬為240公分，深度156.4公分，採中央貫通合而為一單元，每單元可養50羽母雞</div>
<div class="t" style="left:15px;top:83px;letter-spacing:0.72px">每個單元內皆包含巢箱、棲架、抓扒墊。</div>
<div class="h" style="left:15px;top:106px">分隔型</div>
<div class="h" style="left:15px;top:301px">貫通型</div>
<div class="th" style="left:716px;width:75px;line-height:29px">層</div><div class="th" style="left:793px;width:64px">“A”</div><div class="th" style="left:859px;width:65px">“B”</div><div class="th" style="left:926px;width:64px">“C”</div><div class="td" style="left:716px;width:75px;top:103px">3</div><div class="td" style="left:793px;width:64px;top:103px">2370</div><div class="td" style="left:859px;width:65px;top:103px">2555</div><div class="td" style="left:716px;width:75px;top:131px">4</div><div class="td" style="left:793px;width:64px;top:131px">3050</div><div class="td" style="left:859px;width:65px;top:131px">3255</div><div class="td" style="left:716px;width:75px;top:159px">5</div><div class="td" style="left:793px;width:64px;top:159px">3730</div><div class="td" style="left:859px;width:65px;top:159px">3915</div><div class="td" style="left:716px;width:75px;top:187px">6</div><div class="td" style="left:793px;width:64px;top:187px">4410</div><div class="td" style="left:859px;width:65px;top:187px">4595</div><div class="td" style="left:716px;width:75px;top:215px">3+3</div><div class="td" style="left:793px;width:64px;top:215px">5090</div><div class="td" style="left:859px;width:65px;top:215px">5275</div><div class="td" style="left:926px;width:64px;top:215px">2720</div><div class="td" style="left:716px;width:75px;top:243px">4+4</div><div class="td" style="left:793px;width:64px;top:243px">6450</div><div class="td" style="left:859px;width:65px;top:243px">6635</div><div class="td" style="left:926px;width:64px;top:243px">3400</div><div class="td" style="left:716px;width:75px;top:271px">5+5</div><div class="td" style="left:793px;width:64px;top:271px">7810</div><div class="td" style="left:859px;width:65px;top:271px">7995</div><div class="td" style="left:926px;width:64px;top:271px">4080</div><div class="td" style="left:716px;width:75px;top:299px">6+6</div><div class="td" style="left:793px;width:64px;top:299px">9170</div><div class="td" style="left:859px;width:65px;top:299px">9355</div><div class="td" style="left:926px;width:64px;top:299px">4760</div>
<div class="dot" style="left:7.600000000000001px;top:504.5px;background:#e8202a"></div><div class="lg" style="left:45.6px;top:506.0px">巢箱(60x30 cm)</div><div class="dot" style="left:7.600000000000001px;top:532.4px;background:#0b9444"></div><div class="lg" style="left:45.6px;top:535.1999999999999px">抓扒墊</div><div class="dot" style="left:7.600000000000001px;top:560px;background:#1f78c1"></div><div class="lg" style="left:45.6px;top:562px">棲架</div><div class="dot" style="left:212.10000000000002px;top:504.5px;background:#f59a1f"></div><div class="lg" style="left:249px;top:506.0px">磨爪設施</div><div class="dot" style="left:212.10000000000002px;top:532.4px;background:#231f20"></div><div class="lg" style="left:249px;top:535.1999999999999px">格網</div><div class="dot" style="left:212.10000000000002px;top:560px;background:#808285"></div><div class="lg" style="left:249px;top:562px">籠內中央料管</div>
</body></html>
